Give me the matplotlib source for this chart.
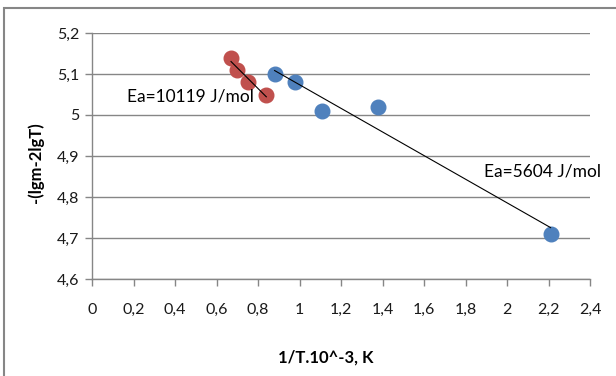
import numpy as np
import matplotlib
matplotlib.use('Agg')
import matplotlib.pyplot as plt
from matplotlib.patches import Rectangle
from matplotlib.ticker import FuncFormatter, MultipleLocator

# data
x_red = [0.67, 0.70, 0.75, 0.84]
y_red = [5.14, 5.11, 5.08, 5.05]
x_blue = [0.88, 0.98, 1.11, 1.38, 2.21]
y_blue = [5.10, 5.08, 5.01, 5.02, 4.71]
label_red = 'Ea=10119 J/mol'
label_blue = 'Ea=5604 J/mol'
xlabel = '1/T.10^-3, K'
ylabel = '-(lgm-2lgT)'

plt.rcParams['font.family'] = ['Lato', 'DejaVu Sans']

red = '#C0504D'
blue = '#4F81BD'
grey = '#868686'

fig = plt.figure(figsize=(6.16, 3.76), dpi=100)
ax = fig.add_axes([92/616, 1 - 279/376, 498/616, 246/376])

# trendlines (least squares over each group)
for xs, ys in [(x_red, y_red), (x_blue, y_blue)]:
    k, b = np.polyfit(xs, ys, 1)
    xx = np.array([min(xs), max(xs)])
    ax.plot(xx, k*xx + b, color='black', lw=0.8, zorder=4)

ax.plot(x_red, y_red, 'o', color=red, ms=10.5, mec=red, zorder=3)
ax.plot(x_blue, y_blue, 'o', color=blue, ms=10.5, mec=blue, zorder=3)

ax.set_xlim(0, 2.4)
ax.set_ylim(4.6, 5.2)
ax.xaxis.set_major_locator(MultipleLocator(0.2))
ax.yaxis.set_major_locator(MultipleLocator(0.1))
comma = FuncFormatter(lambda v, p: f'{v:.1f}'.rstrip('0').rstrip('.').replace('.', ',') if abs(v) > 1e-9 else '0')
ax.xaxis.set_major_formatter(comma)
ax.yaxis.set_major_formatter(comma)

ax.grid(axis='y', color=grey, lw=1)
ax.set_axisbelow(True)
for s in ['top', 'right']:
    ax.spines[s].set_visible(False)
for s in ['left', 'bottom']:
    ax.spines[s].set_color(grey)
    ax.spines[s].set_linewidth(1)
ax.tick_params(axis='both', direction='out', length=5, color=grey, width=1,
               labelsize=11.5, labelcolor='#1a1a1a')
ax.tick_params(axis='x', pad=12)
ax.tick_params(axis='y', pad=4)

ax.text(0.17, 5.045, label_red, fontsize=12.5, ha='left', va='center', color='black')
ax.text(1.89, 4.863, label_blue, fontsize=12.5, ha='left', va='center', color='black')

fig.text(326/616, 1 - 358/376, xlabel, fontsize=12, fontweight='bold', ha='center', va='center')
fig.text(36/616, 1 - 163/376, ylabel, fontsize=12, fontweight='bold', rotation=90,
         ha='center', va='center')

# chart frame
fig.add_artist(Rectangle((4/616, -0.1), 1.1, 1.1 - 8/376, transform=fig.transFigure,
                         fill=False, edgecolor=grey, lw=1.5, clip_on=False))

fig.savefig('out.png', dpi=100)
